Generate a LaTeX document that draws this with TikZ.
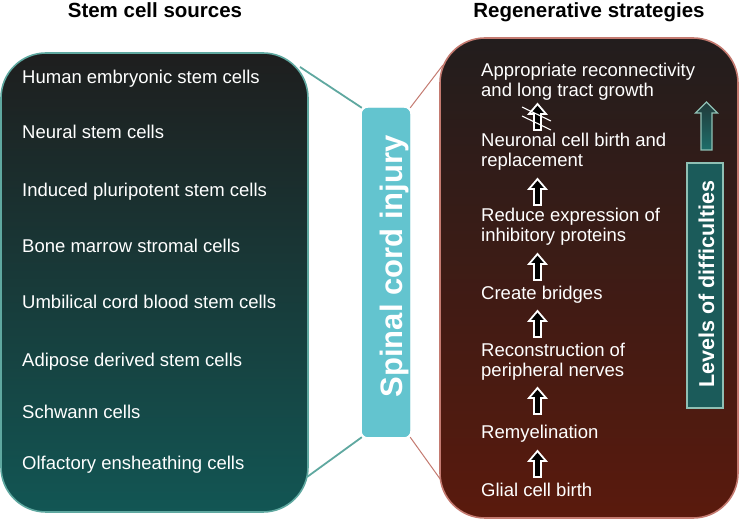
\documentclass[tikz,border=0pt]{standalone}
\usepackage{fontspec}
\setmainfont{Liberation Sans}
\usetikzlibrary{calc}
\definecolor{srcTop}{HTML}{1E1E1E}
\definecolor{srcBot}{HTML}{125654}
\definecolor{srcLine}{HTML}{5FA8A0}
\definecolor{regTop}{HTML}{221D1D}
\definecolor{regBot}{HTML}{5A1A0D}
\definecolor{regLine}{HTML}{C47A70}
\definecolor{sciFill}{HTML}{63C4CF}
\definecolor{lvlFill}{HTML}{1B5B5A}
\definecolor{lvlLine}{HTML}{8FC0B4}
\definecolor{garTop}{HTML}{203A3A}
\definecolor{garBot}{HTML}{1E6E6A}
\begin{document}
\begin{tikzpicture}[x=1pt,y=-1pt,
  title/.style={font=\fontsize{20.5}{24}\selectfont\bfseries, text=black, inner sep=0pt, anchor=base},
  lt/.style={font=\fontsize{18.5}{20}\selectfont, text=white, inner sep=0pt, anchor=base west, align=left},
  bigbox/.style={rounded corners=45pt, line width=1.6pt, minimum width=#1},
  blockup/.pic={\draw[white, fill=black, line width=1.8pt, line join=miter]
     (-3.5,13) -- (-3.5,-3) -- (-8.5,-3) -- (0,-13) -- (8.5,-3) -- (3.5,-3) -- (3.5,13) -- cycle;}
]
\useasboundingbox[fill=white] (0,0) rectangle (740,521);

% titles
\node[title] (t1) at (155,18) {Stem cell sources};
\node[title] (t2) at (589,18) {Regenerative strategies};

% connector end points on the big boxes
\coordinate (lt1) at (300,67);
\coordinate (lb1) at (307,477);
\coordinate (rt1) at (443,65);
\coordinate (rb1) at (443,483);

\node[fill=sciFill, rounded corners=6pt, minimum width=48pt, minimum height=329pt, inner sep=0pt] (sci) at (386,272.5) {};

\draw[srcLine, line width=1.8pt] (lt1) -- (sci.north west);
\draw[srcLine, line width=1.8pt] (lb1) -- (sci.south west);
\draw[regLine, line width=1pt] (rt1) -- (sci.north east);
\draw[regLine, line width=1pt] (rb1) -- (sci.south east);

% big boxes
\node[bigbox=307pt, minimum height=459pt, draw=srcLine, top color=srcTop, bottom color=srcBot] (src) at (154.5,282.5) {};
\node[bigbox=298pt, minimum height=480pt, draw=regLine, top color=regTop, bottom color=regBot] (reg) at (589,278) {};

\node[fill=sciFill, rounded corners=6pt, minimum width=48pt, minimum height=329pt, inner sep=0pt] at (sci) {};
\node[rotate=90, anchor=base, text=white, inner sep=0pt, font=\fontsize{31}{34}\selectfont\bfseries] (scit) at (402,266.5) {Spinal cord injury};

% stem cell sources
\node[lt] (s1) at (22,84) {Human embryonic stem cells};
\node[lt] (s2) at (22,139) {Neural stem cells};
\node[lt] (s3) at (22,197) {Induced pluripotent stem cells};
\node[lt] (s4) at (22,253) {Bone marrow stromal cells};
\node[lt] (s5) at (22,309) {Umbilical cord blood stem cells};
\node[lt] (s6) at (22,367) {Adipose derived stem cells};
\node[lt] (s7) at (22,419) {Schwann cells};
\node[lt] (s8) at (22,470) {Olfactory ensheathing cells};

% strategies (base = baseline of last line)
\node[lt] (r6) at (481,97) {Appropriate reconnectivity\\and long tract growth};
\node[lt] (r5) at (481,167) {Neuronal cell birth and\\replacement};
\node[lt] (r4) at (481,242) {Reduce expression of\\inhibitory proteins};
\node[lt] (r3) at (481,300) {Create bridges};
\node[lt] (r2) at (481,377) {Reconstruction of\\peripheral nerves};
\node[lt] (r1) at (481,439) {Remyelination};
\node[lt] (r0) at (481,497) {Glial cell birth};

% arrows
\pic at (537.5,464) {blockup};
\pic at (537.5,401) {blockup};
\pic at (537.5,324) {blockup};
\pic at (537.5,267) {blockup};
\pic at (537.5,192) {blockup};
\pic at (537.5,117) {blockup};
\draw[white, line width=1.1pt] (522,107) -- (551,121);
\draw[white, line width=1.1pt] (522,116) -- (551,130);

% levels of difficulties
\shade[top color=garTop, bottom color=garBot, draw=lvlLine, line width=1.2pt, line join=miter]
  (701,150) -- (701,113) -- (695.5,113) -- (706.5,102) -- (717.5,113) -- (712,113) -- (712,150) -- cycle;
\node[fill=lvlFill, draw=lvlLine, line width=1.8pt, minimum width=36pt, minimum height=245pt, inner sep=0pt] (lvl) at (705,285.5) {};
\node[rotate=90, anchor=base, text=white, inner sep=0pt, font=\fontsize{21.5}{24}\selectfont\bfseries] (lvlt) at (714,284) {Levels of difficulties};
\end{tikzpicture}
\end{document}
